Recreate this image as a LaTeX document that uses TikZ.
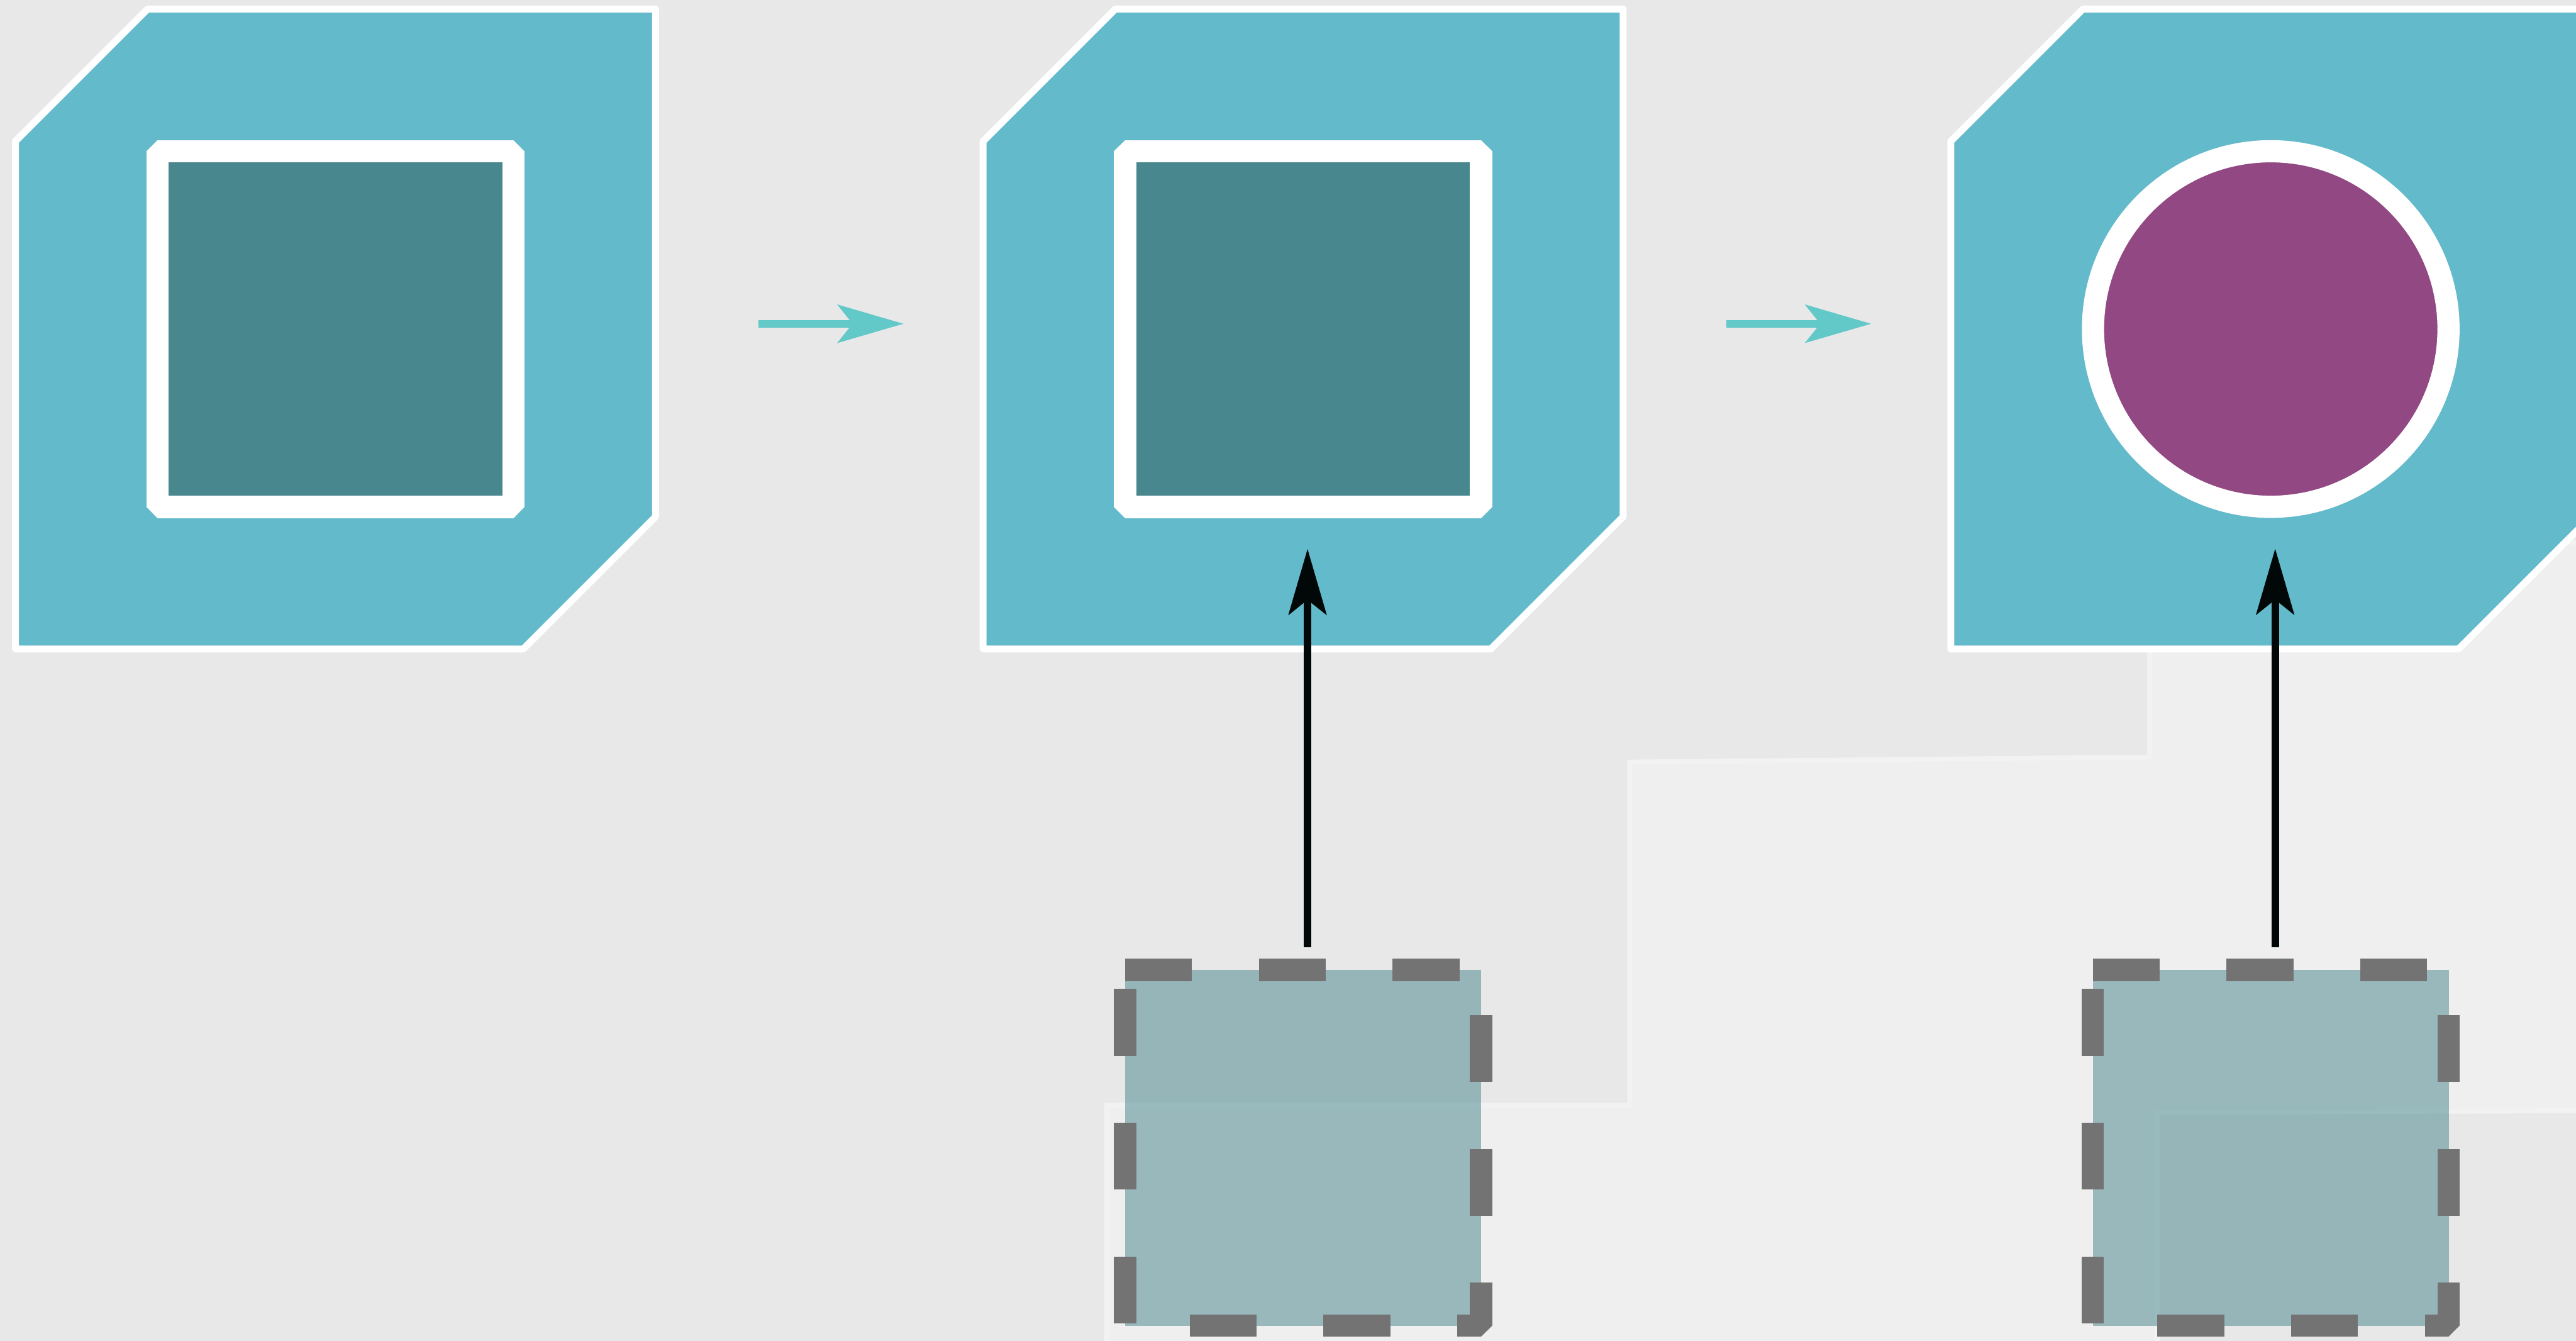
\documentclass[tikz,border=0pt]{standalone}
\usepackage{tikz}
\definecolor{cycBack} {RGB}{232, 232, 232}
\definecolor{cycPatch}{RGB}{239, 239, 239}
\definecolor{cycEdge} {RGB}{242, 242, 242}
\definecolor{cycShell}{RGB}{ 99, 186, 202}
\definecolor{cycCore} {RGB}{ 73, 135, 143}
\definecolor{cycSeed} {RGB}{146,  72, 131}
\definecolor{cycFlow} {RGB}{ 98, 200, 200}
\definecolor{cycDash} {RGB}{115, 115, 115}
\definecolor{cycInk}  {RGB}{  2,   8,   8}
\usetikzlibrary{
  arrows.meta,
  positioning,
  calc,
}

\begin{document}
\begin{tikzpicture}[
  x=0.1mm, y=-0.1mm,
  cell/.style={minimum width=38.96mm, minimum height=38.95mm, inner sep=0pt, outer sep=0pt},
  shell/.style={draw=white, fill=cycShell, line width=0.42mm, line join=round},
  core/.style={draw=white, fill=cycCore, line width=1.35mm, line join=bevel,
    minimum size=21.66mm, inner sep=0pt, outer sep=0pt},
  seed/.style={circle, draw=white, fill=cycSeed, line width=1.35mm,
    minimum size=21.64mm, inner sep=0pt, outer sep=0pt},
  ghost/.style={fill=cycCore, fill opacity=0.52, minimum size=21.66mm, inner sep=0pt, outer sep=0pt},
  ghostline/.style={draw=cycDash, line width=1.35mm, dash pattern=on 4.07mm off 4.07mm, line join=bevel},
  flow/.style={draw=cycFlow, line width=0.45mm, -{Stealth[length=4mm, width=2.3mm, inset=0.9mm]}},
  lift/.style={draw=cycInk, line width=0.45mm, -{Stealth[length=4mm, width=2.3mm, inset=0.9mm]}},
]
  \useasboundingbox (0,0) rectangle (1568,816);

  % Backdrop: grey field with a lighter step-shaped patch
  \fill[cycBack] (0,0) rectangle (1568,816);
  \filldraw[fill=cycPatch, draw=cycEdge, line width=0.3mm]
    (673.7,820) -- (673.7,672.6) -- (992,672.6) -- (992,463.8) -- (1308.5,460.8)
    -- (1308.5,330) -- (1572,330) -- (1572,676) -- (1313,677) -- (1313,820) -- cycle;

  % Cells (invisible frames for the cut-corner shells)
  \node[cell] (cell1) at (204.2,200.25) {};
  \node[cell, right=19.94mm of cell1] (cell2) {};
  \node[cell, right=19.94mm of cell2] (cell3) {};

  \draw[shell] ([yshift=-8.05mm]cell1.north west) -- ([xshift=8.05mm]cell1.north west) -- (cell1.north east)
    -- ([yshift=8.05mm]cell1.south east) -- ([xshift=-8.05mm]cell1.south east) -- (cell1.south west) -- cycle;
  \draw[shell] ([yshift=-8.05mm]cell2.north west) -- ([xshift=8.05mm]cell2.north west) -- (cell2.north east)
    -- ([yshift=8.05mm]cell2.south east) -- ([xshift=-8.05mm]cell2.south east) -- (cell2.south west) -- cycle;
  \draw[shell] ([yshift=-8.05mm]cell3.north west) -- ([xshift=8.05mm]cell3.north west) -- (cell3.north east)
    -- ([yshift=8.05mm]cell3.south east) -- ([xshift=-8.05mm]cell3.south east) -- (cell3.south west) -- cycle;

  % Contents of each cell
  \node[core] (core1) at (cell1) {};
  \node[core] (core2) at (cell2) {};
  \node[seed] (seed3) at (cell3) {};

  % Steps between cells
  \draw[flow] ([xshift=6.28mm, yshift=0.32mm]cell1.east) -- ([xshift=-4.84mm, yshift=0.32mm]cell2.west);
  \draw[flow] ([xshift=6.28mm, yshift=0.32mm]cell2.east) -- ([xshift=-4.84mm, yshift=0.32mm]cell3.west);

  % Incoming dashed squares
  \node[ghost, below=28.17mm of core2] (ghost1) {};
  \node[ghost, below=28.18mm of seed3] (ghost2) {};
  \draw[ghostline] (ghost1.north west) -- (ghost1.north east) -- (ghost1.south east) -- (ghost1.south west) -- cycle;
  \draw[ghostline] (ghost2.north west) -- (ghost2.north east) -- (ghost2.south east) -- (ghost2.south west) -- cycle;

  % Lifts into the cells
  \draw[lift] ([xshift=0.27mm, yshift=1.39mm]ghost1.north) -- ([xshift=0.27mm, yshift=-2.55mm]core2.south);
  \draw[lift] ([xshift=0.27mm, yshift=1.39mm]ghost2.north) -- ([xshift=0.27mm, yshift=-2.55mm]seed3.south);
\end{tikzpicture}
\end{document}
